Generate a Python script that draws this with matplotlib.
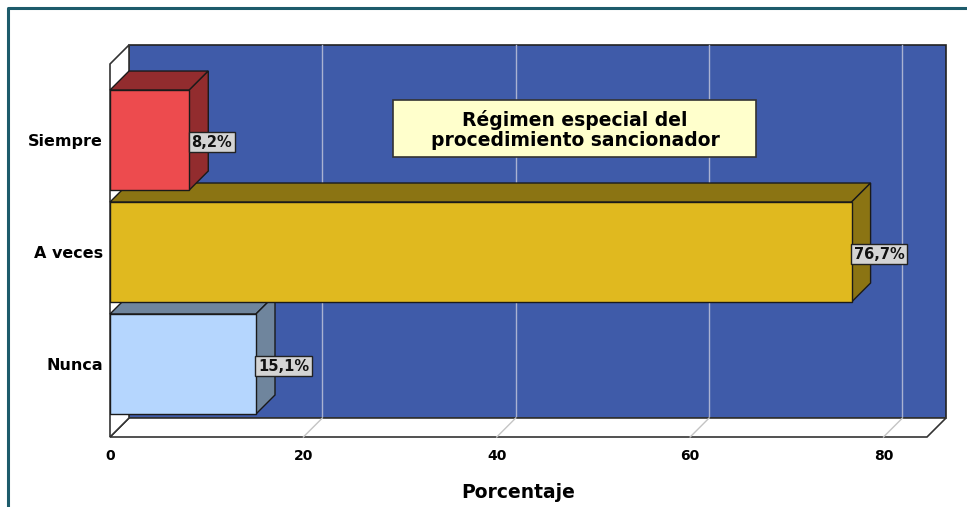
import matplotlib.pyplot as plt
from matplotlib.patches import Polygon, Rectangle
from matplotlib.lines import Line2D

plt.rcParams['font.family'] = ['DejaVu Sans']

# datos
categorias = ['Nunca', 'A veces', 'Siempre']
porcentajes = [15.1, 76.7, 8.2]
etiquetas = ['15,1%', '76,7%', '8,2%']
colores_frente = ['#b5d6fe', '#e0b91f', '#ed4b4e']
colores_lado = ['#6f859d', '#8b7413', '#922c2e']
ticks_x = [0, 20, 40, 60, 80]
titulo = 'Régimen especial del\nprocedimiento sancionador'

W, H = 967, 507
fig = plt.figure(figsize=(W / 100, H / 100), dpi=100)

# borde exterior
fig.add_artist(Line2D([8 / W, 8 / W, 1], [0, 1 - 8 / H, 1 - 8 / H],
                      transform=fig.transFigure, color='#1d5b6b', lw=2.2))

# plano frontal en pixeles
x0, x1 = 110, 927
y_top, y_bot = 64, 437
ax = fig.add_axes([x0 / W, 1 - y_bot / H, (x1 - x0) / W, (y_bot - y_top) / H])
xmax = 84.5
ymin, ymax = -0.652, 2.679
ax.set_xlim(0, xmax)
ax.set_ylim(ymin, ymax)
for s in ax.spines.values():
    s.set_visible(False)

# profundidad en unidades de datos
dpx = 19
dx = dpx / (x1 - x0) * xmax
dy = dpx / (y_bot - y_top) * (ymax - ymin)

# pared del fondo
ax.add_patch(Rectangle((dx, ymin + dy), xmax, ymax - ymin, facecolor='#3f5ba9',
                       edgecolor='#222222', lw=1.2, clip_on=False, zorder=1))
for t in ticks_x[1:]:
    ax.plot([t + dx, t + dx], [ymin + dy, ymax + dy], color='#aab2d2', lw=1,
            clip_on=False, zorder=1.5)

# suelo
ax.add_patch(Polygon([(0, ymin), (xmax, ymin), (xmax + dx, ymin + dy), (dx, ymin + dy)],
                     closed=True, facecolor='white', edgecolor='#333333', lw=1.2,
                     clip_on=False, zorder=2))
for t in ticks_x[1:]:
    ax.plot([t, t + dx], [ymin, ymin + dy], color='#c4c4c4', lw=1, clip_on=False, zorder=2.5)

# pared izquierda
ax.add_patch(Polygon([(0, ymin), (dx, ymin + dy), (dx, ymax + dy), (0, ymax)],
                     closed=True, facecolor='white', edgecolor='#333333', lw=1.2,
                     clip_on=False, zorder=2))

# barras 3D
alto = 0.893
for i, (v, cf, cl) in enumerate(zip(porcentajes, colores_frente, colores_lado)):
    z = 3 + i
    yb, yt = i - alto / 2, i + alto / 2
    ax.add_patch(Polygon([(0, yt), (v, yt), (v + dx, yt + dy), (dx, yt + dy)], closed=True,
                         facecolor=cl, edgecolor='#1a1a1a', lw=1, clip_on=False, zorder=z))
    ax.add_patch(Polygon([(v, yb), (v + dx, yb + dy), (v + dx, yt + dy), (v, yt)], closed=True,
                         facecolor=cl, edgecolor='#1a1a1a', lw=1, clip_on=False, zorder=z))
    ax.barh(i, v, height=alto, color=cf, edgecolor='#1a1a1a', lw=1, zorder=z + 0.1)
    ax.text(v + 0.2, i - 0.02, etiquetas[i], ha='left', va='center', fontsize=10.5,
            fontweight='bold', color='#111111', zorder=10,
            bbox=dict(boxstyle='square,pad=0.18', facecolor='#d4d4d4', edgecolor='#222222', lw=1))

# ejes
ax.set_yticks(range(len(categorias)))
ax.set_yticklabels(categorias, fontsize=11.5, fontweight='bold')
ax.set_xticks(ticks_x)
ax.set_xticklabels([str(t) for t in ticks_x], fontsize=10, fontweight='bold')
ax.tick_params(length=0)
ax.tick_params(axis='y', pad=5)
ax.tick_params(axis='x', pad=9)
ax.set_xlabel('Porcentaje', fontsize=13.5, fontweight='bold', labelpad=14)

# titulo
fig.add_artist(Rectangle((393 / W, 1 - 157 / H), 363 / W, 57 / H, transform=fig.transFigure,
                         facecolor='#ffffcc', edgecolor='#333333', lw=1.2, zorder=20))
fig.text(575 / W, 1 - 130 / H, titulo, ha='center', va='center', fontsize=13.5,
         fontweight='bold', linespacing=1.0, zorder=21)

fig.savefig('out.png', dpi=100)
